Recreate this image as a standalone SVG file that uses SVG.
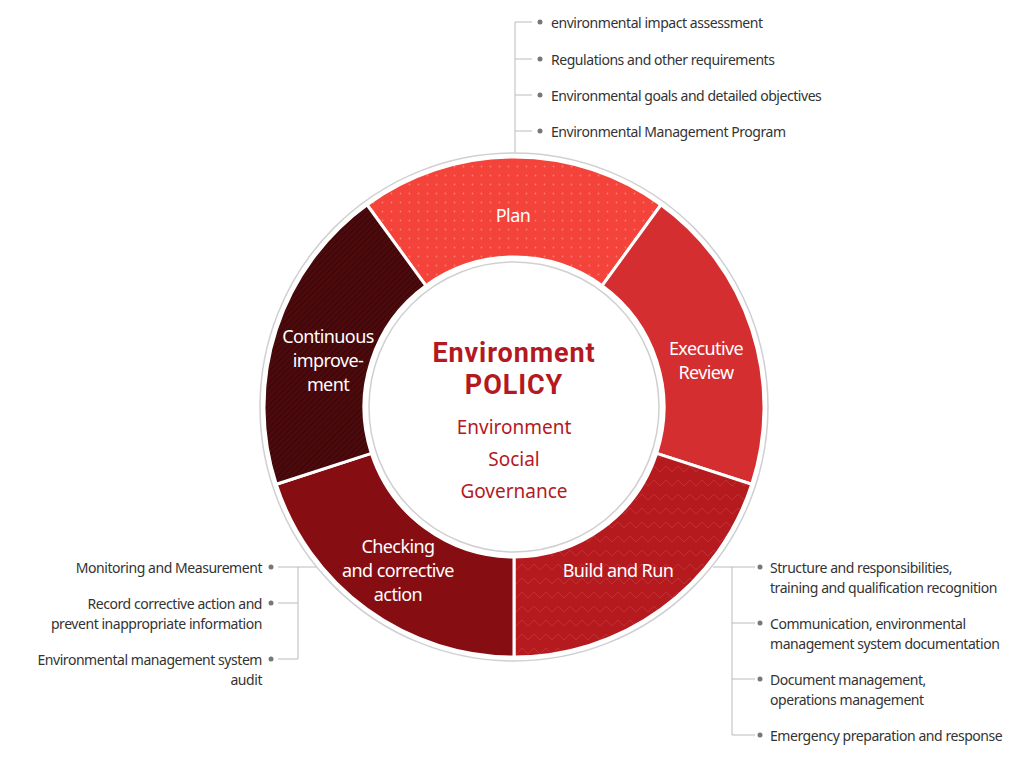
<svg xmlns="http://www.w3.org/2000/svg" width="1030" height="760" viewBox="0 0 1030 760">
<defs>
<style>
.seg{stroke:#fff;stroke-width:3;stroke-linejoin:miter}
.lbl{font-family:"Noto Sans","Liberation Sans",sans-serif;font-size:18px;fill:#fff;text-anchor:middle;letter-spacing:-0.6px}
.item{font-family:"Noto Sans","Liberation Sans",sans-serif;font-size:14px;fill:#333;letter-spacing:-0.45px}
.r{text-anchor:end}
.ln{stroke:#bbb;stroke-width:1;fill:none}
.dot{fill:#777}
.ctr{font-family:"Noto Sans","Liberation Sans",sans-serif;fill:#b3191f;text-anchor:middle}
.ttl{font-family:Roboto,"Liberation Sans",sans-serif;font-weight:bold;font-size:27px;letter-spacing:0.9px;fill:#b3191f;text-anchor:middle}
</style>
<pattern id="dots" width="9" height="9" patternUnits="userSpaceOnUse">
<rect width="9" height="9" fill="#f4433a"/>
<circle cx="4.5" cy="4.5" r="0.9" fill="#f97a70"/>
</pattern>
<pattern id="zig" width="24" height="14" patternUnits="userSpaceOnUse">
<rect width="24" height="14" fill="#b51a1e"/>
<path d="M0,10 L6,4 L12,10 L18,4 L24,10" fill="none" stroke="#c4363a" stroke-width="0.8"/>
</pattern>
<pattern id="hatch" width="4" height="4" patternUnits="userSpaceOnUse" patternTransform="rotate(45)">
<rect width="4" height="4" fill="#4d0a0d"/>
<line x1="0" y1="0" x2="0" y2="4" stroke="#2e0305" stroke-width="1.4"/>
</pattern>
</defs>
<rect width="1030" height="760" fill="#fff"/>

<g id="connectors">
<path class="ln" d="M515,22 V153 M515,22 H532 M515,59 H532 M515,95 H532 M515,131 H532"/>
<path class="ln" d="M713,567 H755 M732,567 V735 M732,623 H755 M732,679 H755 M732,735 H755"/>
<path class="ln" d="M316,567 H278 M298,567 V659 M298,603 H278 M298,659 H278"/>
</g>

<circle cx="514" cy="407" r="254" fill="none" stroke="#d0d0d0" stroke-width="1.5"/>

<g id="plan">
<path class="seg" fill="url(#dots)" d="M367.05,204.75 A250,250 0 0 1 660.95,204.75 L602.17,285.65 A150,150 0 0 0 425.83,285.65 Z"/>
<text class="lbl" x="513" y="222">Plan</text>
</g>
<g id="executive-review">
<path class="seg" fill="#d42e30" d="M660.95,204.75 A250,250 0 0 1 751.78,484.25 L656.66,453.35 A150,150 0 0 0 602.17,285.65 Z"/>
<text class="lbl" x="706" y="355">Executive</text>
<text class="lbl" x="706" y="379">Review</text>
</g>
<g id="build-and-run">
<path class="seg" fill="url(#zig)" d="M751.78,484.25 A250,250 0 0 1 514,657 L514,557 A150,150 0 0 0 656.66,453.35 Z"/>
<text class="lbl" x="618" y="577">Build and Run</text>
</g>
<g id="checking">
<path class="seg" fill="#860e13" d="M514,657 A250,250 0 0 1 276.22,484.25 L371.34,453.35 A150,150 0 0 0 514,557 Z"/>
<text class="lbl" x="398" y="553">Checking</text>
<text class="lbl" x="398" y="577">and corrective</text>
<text class="lbl" x="398" y="601">action</text>
</g>
<g id="continuous-improvement">
<path class="seg" fill="url(#hatch)" d="M276.22,484.25 A250,250 0 0 1 367.05,204.75 L425.83,285.65 A150,150 0 0 0 371.34,453.35 Z"/>
<text class="lbl" x="328" y="343">Continuous</text>
<text class="lbl" x="328" y="367">improve-</text>
<text class="lbl" x="328" y="391">ment</text>
</g>

<g id="policy">
<circle cx="514" cy="407" r="145" fill="#fff" stroke="#d0d0d0" stroke-width="1.5"/>
<text class="ttl" x="514" y="362">Environment</text>
<text class="ttl" x="514" y="394">POLICY</text>
<text class="ctr" x="514" y="434" font-size="19">Environment</text>
<text class="ctr" x="514" y="466" font-size="19">Social</text>
<text class="ctr" x="514" y="498" font-size="19">Governance</text>
</g>

<g id="plan-items">
<circle class="dot" cx="540" cy="22" r="2.5"/>
<circle class="dot" cx="540" cy="59" r="2.5"/>
<circle class="dot" cx="540" cy="95" r="2.5"/>
<circle class="dot" cx="540" cy="131" r="2.5"/>
<text class="item" x="551" y="28">environmental impact assessment</text>
<text class="item" x="551" y="65">Regulations and other requirements</text>
<text class="item" x="551" y="101">Environmental goals and detailed objectives</text>
<text class="item" x="551" y="137">Environmental Management Program</text>
</g>

<g id="build-items">
<circle class="dot" cx="760" cy="567" r="2.5"/>
<circle class="dot" cx="760" cy="623" r="2.5"/>
<circle class="dot" cx="760" cy="679" r="2.5"/>
<circle class="dot" cx="760" cy="735" r="2.5"/>
<text class="item" x="770" y="573">Structure and responsibilities,</text>
<text class="item" x="770" y="593">training and qualification recognition</text>
<text class="item" x="770" y="629">Communication, environmental</text>
<text class="item" x="770" y="649">management system documentation</text>
<text class="item" x="770" y="685">Document management,</text>
<text class="item" x="770" y="705">operations management</text>
<text class="item" x="770" y="741">Emergency preparation and response</text>
</g>

<g id="checking-items">
<circle class="dot" cx="271" cy="567" r="2.5"/>
<circle class="dot" cx="271" cy="603" r="2.5"/>
<circle class="dot" cx="271" cy="659" r="2.5"/>
<text class="item r" x="262" y="573">Monitoring and Measurement</text>
<text class="item r" x="262" y="609">Record corrective action and</text>
<text class="item r" x="262" y="629">prevent inappropriate information</text>
<text class="item r" x="262" y="665">Environmental management system</text>
<text class="item r" x="262" y="685">audit</text>
</g>
</svg>
